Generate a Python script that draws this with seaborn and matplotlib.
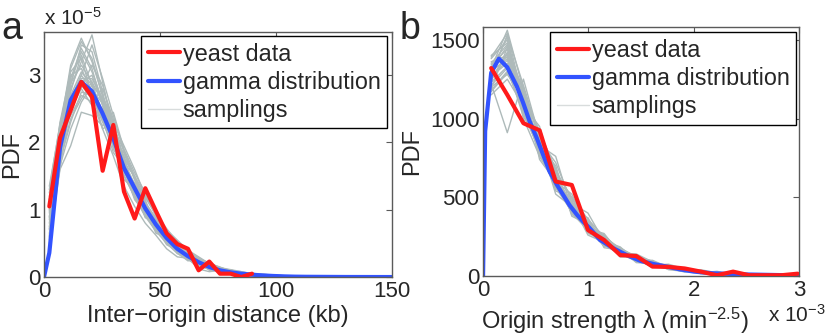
import pandas as pd
import seaborn as sns
import matplotlib.pyplot as plt
from matplotlib.lines import Line2D

sns.set_style("white")
plt.rcParams['font.family'] = ['Liberation Sans', 'DejaVu Sans']
plt.rcParams['mathtext.fontset'] = 'custom'
plt.rcParams['mathtext.rm'] = 'Liberation Sans'
plt.rcParams['mathtext.it'] = 'Liberation Sans:italic'
plt.rcParams['mathtext.bf'] = 'Liberation Sans:bold'

RED = "#ff1a1a"
BLUE = "#3253ff"
GREY = "#aebaba"
GREY_LEG = "#d8dcdc"
EDGE = "#5a5a5a"

# ---------------------------
# Panel a: inter-origin distance (kb), PDF in units of 1e-5
# ---------------------------
a_bins = [2.3, 6.9, 11.5, 16.1, 20.7, 25.3, 29.9, 34.5, 39.1, 43.7, 48.3, 52.9, 57.5,
          62.1, 66.7, 71.3, 75.9, 80.5, 85.1, 89.7, 94.3, 98.9, 103.5, 108.1, 112.7]
a_yeast = [1.05, 2.07, 2.48, 2.90, 2.68, 1.58, 2.26, 1.27, 0.87, 1.32, 0.98, 0.65, 0.49,
           0.42, 0.10, 0.23, 0.05, 0.05, 0.0, 0.05]
a_gamma_x = [0, 2.3, 6.9, 11.5, 16.1, 20.7, 25.3, 29.9, 34.5, 39.1, 43.7, 48.3, 52.9, 57.5,
             62.1, 66.7, 71.3, 75.9, 80.5, 85.1, 89.7, 94.3, 98.9, 103.5, 108.1, 112.7, 130.0, 150.0]
a_gamma_y = [0, 0.36, 1.92, 2.63, 2.90, 2.76, 2.43, 2.06, 1.62, 1.32, 1.02, 0.78, 0.58, 0.42,
             0.31, 0.22, 0.15, 0.10, 0.07, 0.05, 0.035, 0.024, 0.016, 0.010, 0.006, 0.004, 0.001, 0.0]
a_samplings = [
    [0.85, 1.95, 2.70, 3.05, 2.85, 2.40, 2.10, 1.70, 1.25, 1.05, 0.80, 0.55, 0.45, 0.30, 0.20, 0.18, 0.08, 0.06, 0.05, 0.02, 0.03, 0.01, 0.0, 0.01, 0.0],
    [1.10, 2.10, 2.95, 3.40, 3.10, 2.55, 1.95, 1.55, 1.40, 0.95, 0.70, 0.62, 0.38, 0.35, 0.18, 0.12, 0.12, 0.05, 0.03, 0.05, 0.01, 0.02, 0.0, 0.0, 0.0],
    [0.60, 1.75, 2.35, 2.65, 2.90, 2.60, 2.25, 1.75, 1.20, 1.10, 0.85, 0.50, 0.48, 0.28, 0.25, 0.10, 0.10, 0.09, 0.04, 0.03, 0.0, 0.01, 0.02, 0.0, 0.0],
    [1.25, 2.20, 3.15, 3.55, 3.20, 2.70, 2.30, 1.60, 1.35, 0.90, 0.75, 0.65, 0.35, 0.32, 0.22, 0.16, 0.06, 0.08, 0.06, 0.02, 0.02, 0.0, 0.01, 0.0, 0.0],
    [0.70, 1.80, 2.50, 2.80, 2.55, 2.35, 2.00, 1.85, 1.45, 1.15, 0.70, 0.55, 0.50, 0.36, 0.20, 0.14, 0.12, 0.05, 0.06, 0.04, 0.02, 0.01, 0.0, 0.01, 0.0],
    [0.95, 2.05, 2.80, 3.20, 3.60, 2.90, 2.15, 1.50, 1.20, 0.98, 0.82, 0.60, 0.40, 0.25, 0.24, 0.15, 0.09, 0.07, 0.03, 0.03, 0.03, 0.02, 0.01, 0.0, 0.0],
    [0.50, 1.60, 1.95, 2.45, 2.40, 2.25, 2.45, 1.90, 1.55, 1.25, 0.90, 0.68, 0.46, 0.33, 0.26, 0.19, 0.11, 0.10, 0.06, 0.04, 0.02, 0.01, 0.01, 0.01, 0.0],
    [1.35, 2.25, 3.00, 3.10, 2.75, 2.20, 1.80, 1.35, 1.05, 0.80, 0.62, 0.42, 0.30, 0.28, 0.12, 0.08, 0.10, 0.04, 0.02, 0.02, 0.0, 0.0, 0.0, 0.0, 0.0],
    [0.80, 1.85, 2.60, 2.95, 2.95, 2.65, 1.90, 1.65, 1.30, 1.30, 0.92, 0.70, 0.55, 0.40, 0.30, 0.20, 0.15, 0.08, 0.07, 0.05, 0.04, 0.03, 0.01, 0.02, 0.01],
    [1.00, 2.00, 2.55, 2.90, 3.00, 2.55, 2.05, 1.60, 1.15, 0.95, 0.74, 0.48, 0.40, 0.26, 0.18, 0.12, 0.08, 0.06, 0.04, 0.01, 0.01, 0.0, 0.0, 0.0, 0.0],
    [0.65, 1.70, 2.75, 3.30, 2.85, 2.45, 2.20, 1.70, 1.50, 1.00, 0.65, 0.60, 0.52, 0.30, 0.15, 0.17, 0.07, 0.11, 0.05, 0.06, 0.03, 0.01, 0.02, 0.0, 0.01],
    [1.15, 2.15, 2.40, 2.70, 2.60, 2.80, 2.35, 1.45, 1.30, 0.88, 0.86, 0.52, 0.36, 0.24, 0.28, 0.13, 0.09, 0.05, 0.05, 0.03, 0.01, 0.0, 0.01, 0.0, 0.0],
    [0.90, 1.90, 2.85, 3.45, 3.35, 2.75, 2.05, 1.80, 1.25, 1.05, 0.77, 0.57, 0.43, 0.29, 0.21, 0.14, 0.13, 0.06, 0.04, 0.03, 0.02, 0.02, 0.0, 0.0, 0.0],
    [0.75, 1.85, 2.45, 2.85, 2.65, 2.50, 2.10, 1.55, 1.40, 1.10, 0.88, 0.63, 0.44, 0.34, 0.23, 0.16, 0.09, 0.09, 0.06, 0.02, 0.03, 0.02, 0.01, 0.01, 0.0],
    [1.05, 2.30, 3.05, 3.25, 2.70, 2.35, 1.85, 1.65, 1.20, 0.92, 0.72, 0.53, 0.39, 0.31, 0.19, 0.16, 0.10, 0.07, 0.04, 0.04, 0.02, 0.01, 0.01, 0.0, 0.0],
    [0.55, 1.65, 2.20, 2.60, 2.85, 2.65, 2.30, 1.95, 1.60, 1.20, 0.95, 0.72, 0.52, 0.38, 0.27, 0.21, 0.14, 0.10, 0.08, 0.05, 0.04, 0.03, 0.02, 0.02, 0.01],
    [0.88, 2.12, 2.90, 3.35, 3.05, 2.62, 2.12, 1.72, 1.38, 1.02, 0.76, 0.59, 0.41, 0.29, 0.22, 0.15, 0.11, 0.07, 0.05, 0.03, 0.02, 0.01, 0.01, 0.0, 0.0],
    [1.20, 2.00, 2.65, 3.00, 3.45, 2.95, 2.40, 1.85, 1.45, 1.12, 0.84, 0.64, 0.47, 0.34, 0.25, 0.17, 0.12, 0.08, 0.06, 0.04, 0.03, 0.02, 0.01, 0.01, 0.0],
    [0.58, 1.72, 2.30, 2.75, 2.70, 2.30, 1.95, 1.58, 1.22, 0.96, 0.73, 0.56, 0.37, 0.27, 0.19, 0.13, 0.09, 0.06, 0.04, 0.02, 0.01, 0.01, 0.0, 0.0, 0.0],
    [0.98, 2.08, 3.10, 3.50, 3.25, 2.68, 2.18, 1.63, 1.28, 0.97, 0.71, 0.52, 0.40, 0.30, 0.23, 0.14, 0.10, 0.06, 0.05, 0.03, 0.02, 0.02, 0.01, 0.0, 0.0],
    [0.72, 1.88, 2.52, 2.82, 3.15, 2.85, 2.28, 1.78, 1.48, 1.18, 0.92, 0.66, 0.49, 0.37, 0.26, 0.18, 0.13, 0.09, 0.07, 0.04, 0.03, 0.02, 0.01, 0.01, 0.01],
    [1.30, 2.28, 2.88, 3.15, 2.90, 2.38, 1.98, 1.52, 1.18, 0.90, 0.68, 0.50, 0.35, 0.26, 0.17, 0.11, 0.07, 0.05, 0.03, 0.02, 0.01, 0.0, 0.0, 0.0, 0.0],
    [0.62, 1.62, 2.58, 3.00, 2.78, 2.58, 2.22, 1.88, 1.50, 1.22, 0.96, 0.69, 0.53, 0.39, 0.28, 0.20, 0.14, 0.11, 0.08, 0.05, 0.04, 0.03, 0.02, 0.01, 0.01],
    [1.08, 1.98, 2.68, 2.92, 2.62, 2.20, 2.32, 1.68, 1.32, 1.06, 0.80, 0.60, 0.44, 0.32, 0.21, 0.16, 0.11, 0.07, 0.05, 0.03, 0.02, 0.01, 0.01, 0.0, 0.0],
]

# ---------------------------
# Panel b: origin strength (1e-3 min^-2.5)
# ---------------------------
b_bins = [0.077, 0.230, 0.383, 0.536, 0.689, 0.842, 0.995, 1.148, 1.301, 1.454,
          1.607, 1.760, 1.913, 2.066, 2.219, 2.372, 2.525, 2.678, 2.831, 2.984]
b_yeast = [1320, 1150, 970, 925, 600, 578, 292, 229, 133, 127,
           60, 58, 48, 28, 5, 28, 5, 5, 5, 15]
b_gamma_x = [0, 0.02, 0.077, 0.15, 0.23, 0.32, 0.38, 0.44, 0.51, 0.57, 0.63, 0.70, 0.76, 0.82,
             0.89, 0.95, 1.01, 1.11, 1.24, 1.36, 1.49, 1.62, 1.75, 1.87, 2.0, 2.19, 2.5, 2.82, 3.0]
b_gamma_y = [0, 920, 1290, 1380, 1325, 1205, 1100, 985, 875, 770, 665, 580, 515, 450,
             390, 345, 305, 229, 175, 134, 97, 76, 59, 42, 28, 17, 10, 6, 5]
b_samplings = [
    [1250, 1420, 1120, 850, 610, 420, 320, 210, 150, 120, 70, 55, 35, 20, 15, 10, 5, 5, 0, 0],
    [1320, 1560, 1180, 790, 560, 470, 280, 240, 140, 95, 85, 45, 40, 30, 10, 15, 10, 0, 5, 0],
    [1180, 1300, 1050, 900, 650, 400, 300, 190, 170, 100, 60, 70, 30, 25, 20, 5, 5, 5, 0, 5],
    [1380, 1500, 1000, 760, 620, 450, 350, 230, 130, 130, 80, 50, 45, 15, 20, 10, 0, 10, 5, 0],
    [1220, 910, 1250, 880, 540, 500, 290, 260, 160, 90, 75, 65, 40, 35, 15, 20, 10, 5, 5, 5],
    [1300, 1380, 1150, 820, 700, 380, 330, 200, 180, 115, 65, 60, 50, 20, 25, 10, 15, 5, 0, 0],
    [1150, 1250, 1080, 950, 580, 460, 260, 215, 145, 140, 90, 40, 30, 30, 10, 10, 5, 0, 5, 0],
    [1400, 1480, 1030, 800, 640, 410, 370, 180, 165, 105, 70, 75, 45, 25, 15, 5, 10, 5, 0, 0],
    [1270, 1350, 1200, 740, 600, 520, 300, 250, 120, 125, 95, 50, 25, 40, 20, 15, 5, 5, 5, 0],
    [1340, 1440, 1090, 860, 520, 440, 290, 230, 175, 85, 80, 60, 40, 20, 30, 10, 5, 0, 0, 5],
    [1200, 1280, 1130, 910, 680, 390, 340, 200, 135, 110, 55, 65, 35, 25, 10, 20, 10, 5, 0, 0],
    [1290, 1520, 1060, 780, 570, 480, 270, 235, 160, 100, 75, 45, 50, 15, 15, 5, 5, 5, 5, 0],
    [1360, 1400, 1140, 830, 760, 420, 310, 205, 150, 120, 65, 55, 30, 30, 20, 10, 0, 5, 0, 0],
    [1230, 1330, 1010, 870, 600, 460, 400, 220, 185, 95, 100, 55, 45, 25, 10, 15, 10, 0, 0, 5],
    [1310, 1460, 1170, 810, 630, 430, 300, 270, 140, 130, 70, 50, 35, 20, 15, 10, 5, 5, 0, 0],
    [1260, 1370, 1100, 840, 590, 450, 285, 195, 155, 110, 85, 60, 40, 30, 20, 10, 10, 5, 5, 0],
    [1280, 1530, 1210, 880, 640, 455, 330, 225, 160, 115, 80, 55, 40, 25, 15, 10, 5, 5, 0, 0],
    [1170, 1290, 1160, 920, 670, 490, 340, 245, 170, 120, 85, 60, 45, 30, 20, 15, 10, 5, 5, 0],
    [1350, 1470, 1070, 790, 560, 410, 300, 215, 150, 105, 70, 50, 35, 25, 15, 10, 5, 0, 0, 0],
    [1240, 1410, 1190, 860, 720, 470, 310, 230, 150, 100, 80, 50, 40, 20, 15, 10, 5, 5, 0, 5],
    [1390, 1540, 1110, 760, 590, 400, 290, 205, 140, 100, 65, 45, 30, 20, 10, 10, 5, 0, 0, 0],
    [1210, 1320, 1030, 890, 660, 500, 360, 250, 175, 125, 90, 65, 45, 30, 20, 15, 10, 5, 5, 5],
    [1330, 1390, 1160, 800, 610, 430, 315, 260, 145, 110, 75, 55, 40, 25, 15, 10, 5, 5, 0, 0],
    [1190, 1450, 1040, 830, 580, 465, 325, 210, 165, 115, 80, 60, 35, 30, 20, 10, 5, 5, 5, 0],
]

labels = ["yeast data", "gamma distribution", "samplings"]


def long_form(bins, runs):
    rows = []
    for i, run in enumerate(runs):
        for x, y in zip(bins, run):
            rows.append({"run": i, "x": x, "pdf": y})
    return pd.DataFrame(rows)


def draw_panel(ax, bins, runs, yeast, gx, gy):
    sns.lineplot(data=long_form(bins, runs), x="x", y="pdf", units="run", estimator=None,
                 color=GREY, lw=1.0, ax=ax, legend=False, zorder=1)
    sns.lineplot(x=gx, y=gy, color=BLUE, lw=3, ax=ax, zorder=2)
    sns.lineplot(x=bins[:len(yeast)], y=yeast, color=RED, lw=3, ax=ax, zorder=3)
    for s in ax.spines.values():
        s.set_color(EDGE)
        s.set_linewidth(1.0)
    ax.tick_params(direction="in", length=4, width=0.8, color=EDGE,
                   top=True, right=True, labelsize=16, pad=2.5)
    handles = [Line2D([], [], color=RED, lw=3),
               Line2D([], [], color=BLUE, lw=3),
               Line2D([], [], color=GREY_LEG, lw=1)]
    return handles


def add_legend(ax, handles, anchor):
    ax.legend(handles, labels, loc="upper right", bbox_to_anchor=anchor, borderaxespad=0,
              fontsize=16.8, handlelength=1.4, handletextpad=0.1, labelspacing=0.22,
              borderpad=0.28, frameon=True, fancybox=False, framealpha=1, edgecolor="black")


fig = plt.figure(figsize=(8.3, 3.35), dpi=100)
ax1 = fig.add_axes([0.053, 0.173, 0.419, 0.731])
ax2 = fig.add_axes([0.582, 0.176, 0.381, 0.743])

h = draw_panel(ax1, a_bins, a_samplings, a_yeast, a_gamma_x, a_gamma_y)
ax1.set_xlim(0, 150)
ax1.set_ylim(0, 3.64)
ax1.set_xticks([0, 50, 100, 150])
ax1.set_yticks([0, 1, 2, 3])
ax1.set_xlabel("Inter\u2212origin distance (kb)", fontsize=17)
ax1.set_ylabel("PDF", fontsize=17)
ax1.xaxis.set_label_coords(0.5, -0.115)
ax1.yaxis.set_label_coords(-0.06, 0.5)
add_legend(ax1, h, (0.9865, 0.984))

h = draw_panel(ax2, b_bins, b_samplings, b_yeast, b_gamma_x, b_gamma_y)
ax2.set_xlim(0, 3)
ax2.set_ylim(0, 1580)
ax2.set_xticks([0, 1, 2, 3])
ax2.set_yticks([0, 500, 1000, 1500])
ax2.set_xlabel("Origin strength \u03bb (min$^{\u22122.5}$)", fontsize=17)
ax2.set_ylabel("PDF", fontsize=17)
ax2.xaxis.set_label_coords(0.418, -0.12)
ax2.yaxis.set_label_coords(-0.19, 0.5)
add_legend(ax2, h, (0.9896, 0.979))

# panel letters and exponent labels
fig.text(0.002, 0.884, "a", fontsize=27, va="baseline")
fig.text(0.482, 0.884, "b", fontsize=27, va="baseline")
fig.text(0.053, 0.925, "x 10$^{\u22125}$", fontsize=15, va="baseline")
fig.text(0.925, 0.039, "x 10$^{\u22123}$", fontsize=15, va="baseline")

plt.savefig("out.png", dpi=100)
